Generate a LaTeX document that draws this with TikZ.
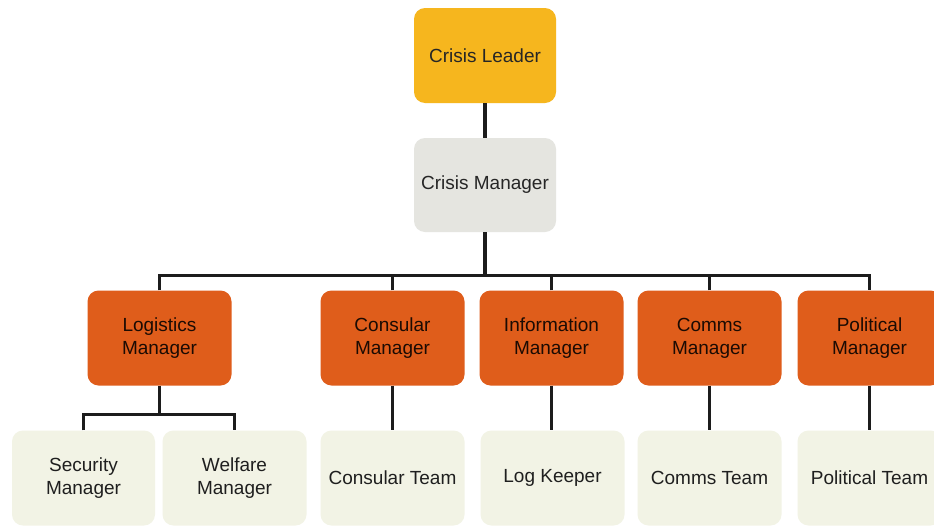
\documentclass[tikz,border=0pt]{standalone}
\usepackage{fontspec}
\setmainfont{Liberation Sans}
\begin{document}
\definecolor{leadfill}{HTML}{F6B61E}
\definecolor{mgrfill}{HTML}{E5E5E0}
\definecolor{deptfill}{HTML}{DF5D1B}
\definecolor{teamfill}{HTML}{F2F3E5}
\definecolor{inkgrey}{HTML}{262626}
\definecolor{wirecol}{HTML}{1C1C1C}
\begin{tikzpicture}[x=1pt,y=-1pt,
  box/.style={rounded corners=11pt, minimum width=144pt, minimum height=95pt,
    align=center, text=inkgrey, inner sep=2pt,
    font=\fontsize{19}{23}\selectfont},
  leadbox/.style={box, fill=leadfill},
  mgrbox/.style={box, fill=mgrfill},
  deptbox/.style={box, fill=deptfill, text=black!88!deptfill},
  teambox/.style={box, fill=teamfill, text=black!88},
  wire/.style={draw=wirecol, line width=3.6pt}]
\useasboundingbox (0,0) rectangle (934,525);
\clip (0,0) rectangle (934,525);
\fill[white] (0,0) rectangle (934,525);

% top two levels
\node[leadbox, minimum width=142pt] (leader) at (485,55.5) {Crisis Leader};
\node[mgrbox, minimum width=142pt, minimum height=94pt] (manager) at (485,185) {Crisis Manager};

% department managers
\node[deptbox] (logistics) at (159.5,338) {Logistics\\Manager};
\node[deptbox] (consular) at (392.5,338) {Consular\\Manager};
\node[deptbox] (information) at (551.5,338) {Information\\Manager};
\node[deptbox] (comms) at (709.5,338) {Comms\\Manager};
\node[deptbox] (political) at (869.5,338) {Political\\Manager};

% teams
\node[teambox, minimum width=143pt] (security) at (83.5,478) {Security\\Manager};
\node[teambox, minimum width=144pt] (welfare) at (234.5,478) {Welfare\\Manager};
\node[teambox] (consteam) at (392.5,478) {Consular Team};
\node[teambox] (logkeeper) at (552.5,478) {Log Keeper};
\node[teambox] (commsteam) at (709.5,478) {Comms Team};
\node[teambox] (polteam) at (869.5,478) {Political Team};

% wires
\draw[wire] (leader.south) -- (manager.north);
\draw[wire] (manager.south) -- ++(0,42);
\draw[wire] (logistics.north) -- ++(0,-15) -| (political.north);
\draw[wire] (consular.north) -- ++(0,-15);
\draw[wire] (information.north) -- ++(0,-15);
\draw[wire] (comms.north) -- ++(0,-15);

\draw[wire] (logistics.south) -- ++(0,28);
\draw[wire] (security.north) -- ++(0,-16) -| (welfare.north);
\draw[wire] (consular.south) -- (consteam.north);
\draw[wire] (information.south) -- (information.south |- logkeeper.north);
\draw[wire] (comms.south) -- (commsteam.north);
\draw[wire] (political.south) -- (polteam.north);
\end{tikzpicture}
\end{document}
